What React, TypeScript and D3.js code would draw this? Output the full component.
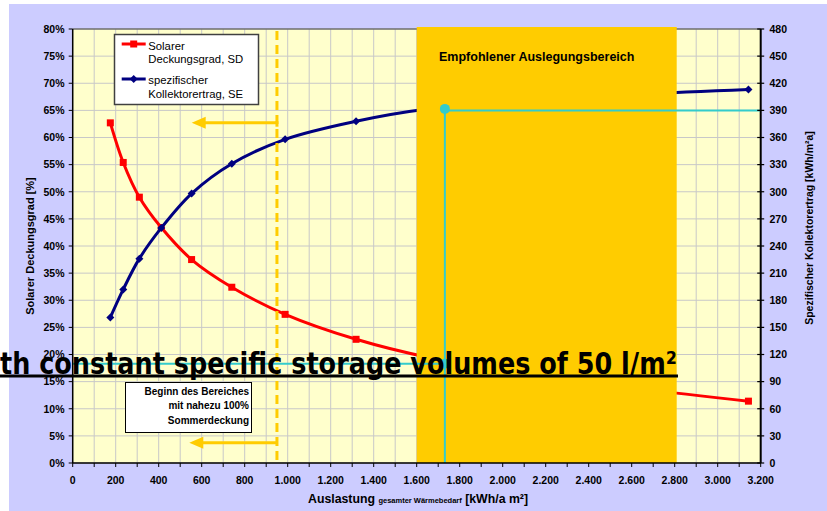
import React from 'react';
import * as d3 from 'd3';

// Auslastung [kWh/a m²] (shared by both series)
const loads = [175, 235, 310, 412, 553, 740, 988, 1318, 1650, 2250, 3143];
// Solarer Deckungsgrad SD [%]
const sdValues = [62.7, 55.4, 49.0, 43.4, 37.5, 32.4, 27.4, 22.8, 19.5, 15.6, 11.4];
// spezifischer Kollektorertrag SE [kWh/m²a]
const seValues = [161, 192, 226, 260, 298, 331, 358, 378, 391.5, 403, 413];

const xTicks = d3.range(0, 3201, 200);
const xMinor = d3.range(0, 3201, 100);
const leftTicks = d3.range(0, 81, 5);
const rightTicks = d3.range(0, 481, 30);

const rangeStart = 1600;
const rangeEnd = 2800;
const markLoad = 1731;
const markSE = 390;
const markSD = 18.3;
const summerStart = 950;

const W = 827;
const H = 511;
const m = { left: 72.7, right: 760.7, top: 29, bottom: 463 };

const fmtThousands = (v: number) =>
  v >= 1000 ? `${Math.floor(v / 1000)}.${String(v % 1000).padStart(3, '0')}` : String(v);

const App: React.FC = () => {
  const x = d3.scaleLinear().domain([0, 3200]).range([m.left, m.right]);
  const yL = d3.scaleLinear().domain([0, 80]).range([m.bottom, m.top]);
  const yR = d3.scaleLinear().domain([0, 480]).range([m.bottom, m.top]);

  const sdLine = d3.line<number>()
    .x((_, i) => x(loads[i]))
    .y(d => yL(d))
    .curve(d3.curveCatmullRom);
  const seLine = d3.line<number>()
    .x((_, i) => x(loads[i]))
    .y(d => yR(d))
    .curve(d3.curveCatmullRom);

  const font = "'Liberation Sans', Arial, sans-serif";
  const yellow = '#FFCC00';
  const cyan = '#33CCCC';
  const arrowY1 = 122.7;
  const arrowY2 = 442.7;
  const xs = x(summerStart);

  const arrow = (y: number, tipX: number) => (
    <g>
      <line x1={xs} y1={y} x2={tipX + 12} y2={y} stroke={yellow} strokeWidth={3} />
      <path d={`M${tipX},${y} L${tipX + 14},${y - 6} L${tipX + 14},${y + 6} Z`} fill={yellow} />
    </g>
  );

  return (
    <svg width={W} height={H} style={{ position: 'absolute', left: 0, top: 0 }} fontFamily={font}>
      <rect x={0} y={0} width={W} height={H} fill="#ffffff" />
      <rect x={9} y={4} width={W - 9} height={H - 4} fill="#CCCCFF" />
      <rect x={m.left} y={m.top} width={m.right - m.left} height={m.bottom - m.top} fill="#FFFFCC" />

      {/* grid */}
      {xMinor.map(v => (
        <line key={`gx${v}`} x1={x(v)} x2={x(v)} y1={m.top} y2={m.bottom} stroke="#C8C8C8" strokeWidth={1} />
      ))}
      {leftTicks.map(v => (
        <line key={`gy${v}`} x1={m.left} x2={m.right} y1={yL(v)} y2={yL(v)} stroke="#C8C8C8" strokeWidth={1} />
      ))}
      <line x1={m.left} x2={m.right} y1={m.top} y2={m.top} stroke="#404040" strokeWidth={1} />

      {/* series */}
      <path d={sdLine(sdValues) || ''} fill="none" stroke="#FF0000" strokeWidth={3} />
      {sdValues.map((v, i) => (
        <rect key={`sd${i}`} x={x(loads[i]) - 3.5} y={yL(v) - 3.5} width={7} height={7} fill="#FF0000" />
      ))}
      <path d={seLine(seValues) || ''} fill="none" stroke="#000080" strokeWidth={3} />
      {seValues.map((v, i) => (
        <path key={`se${i}`} d={`M${x(loads[i])},${yR(v) - 4} l4,4 l-4,4 l-4,-4 Z`} fill="#000080" />
      ))}

      {/* recommended range */}
      <rect x={x(rangeStart)} y={27} width={x(rangeEnd) - x(rangeStart) + 2} height={m.bottom - 27} fill={yellow} />
      <text x={439} y={61} fontSize={12.5} fontWeight="bold" fill="#000">Empfohlener Auslegungsbereich</text>

      {/* cyan markers */}
      <line x1={x(markLoad)} x2={x(markLoad)} y1={yR(markSE)} y2={m.bottom} stroke={cyan} strokeWidth={2} />
      <line x1={x(markLoad)} x2={m.right} y1={yR(markSE)} y2={yR(markSE)} stroke={cyan} strokeWidth={2} />
      <circle cx={x(markLoad)} cy={yR(markSE) - 1.5} r={5} fill={cyan} />
      <line x1={m.left} x2={x(markLoad)} y1={yL(markSD)} y2={yL(markSD)} stroke={cyan} strokeWidth={2} />
      <circle cx={x(markLoad)} cy={yL(markSD)} r={5} fill={cyan} />

      {/* summer coverage marker */}
      <line x1={xs} x2={xs} y1={31} y2={m.bottom} stroke={yellow} strokeWidth={3} strokeDasharray="9 5" />
      {arrow(arrowY1, 191.7)}
      <line x1={xs} x2={xs} y1={arrowY1 - 1.5} y2={arrowY1 + 4} stroke={yellow} strokeWidth={3} />
      {arrow(arrowY2, 189.3)}

      {/* axes */}
      <line x1={m.left} x2={m.left} y1={m.top} y2={m.bottom} stroke="#000" strokeWidth={1.5} />
      <line x1={m.right} x2={m.right} y1={m.top} y2={m.bottom} stroke="#000" strokeWidth={2} />
      <line x1={m.left} x2={m.right} y1={m.bottom} y2={m.bottom} stroke="#000" strokeWidth={1.5} />
      {xMinor.map(v => (
        <line key={`tx${v}`} x1={x(v)} x2={x(v)} y1={m.bottom} y2={m.bottom + 4} stroke="#000" strokeWidth={1} />
      ))}
      {xTicks.map(v => (
        <text key={`lx${v}`} x={x(v)} y={484} fontSize={10.5} fontWeight="bold" textAnchor="middle">{fmtThousands(v)}</text>
      ))}
      {leftTicks.map(v => (
        <g key={`ly${v}`}>
          <line x1={m.left - 4} x2={m.left} y1={yL(v)} y2={yL(v)} stroke="#000" strokeWidth={1} />
          <text x={64.5} y={yL(v) + 3.8} fontSize={10.5} fontWeight="bold" textAnchor="end">{`${v}%`}</text>
        </g>
      ))}
      {rightTicks.map(v => (
        <g key={`ry${v}`}>
          <line x1={m.right - 3.5} x2={m.right + 3.5} y1={yR(v)} y2={yR(v)} stroke="#000" strokeWidth={1.2} />
          <text x={769.5} y={yR(v) + 3.8} fontSize={10.5} fontWeight="bold" textAnchor="start">{v}</text>
        </g>
      ))}

      {/* axis titles */}
      <text transform="translate(34,246) rotate(-90)" fontSize={11} fontWeight="bold" textAnchor="middle">
        Solarer Deckungsgrad  [%]
      </text>
      <text transform="translate(812.5,228) rotate(-90)" fontSize={10.5} fontWeight="bold" textAnchor="middle">
        Spezifischer Kollektorertrag [kWh/m²a]
      </text>
      <text x={308} y={503} fontSize={12.3} fontWeight="bold">
        Auslastung <tspan fontSize={7.5}>gesamter Wärmebedarf</tspan> [kWh/a m²]
      </text>

      {/* legend */}
      <rect x={114.5} y={34.5} width={144} height={70} fill="#fff" stroke="#404040" strokeWidth={1.5} />
      <line x1={121.7} x2={145.7} y1={44} y2={44} stroke="#FF0000" strokeWidth={3} />
      <rect x={130.2} y={40.5} width={7} height={7} fill="#FF0000" />
      <text x={148.3} y={49.5} fontSize={11.3}>Solarer</text>
      <text x={148.3} y={63} fontSize={11.3}>Deckungsgrad, SD</text>
      <line x1={121.7} x2={145.7} y1={79} y2={79} stroke="#000080" strokeWidth={3} />
      <path d="M133.7,75 l4,4 l-4,4 l-4,-4 Z" fill="#000080" />
      <text x={148.3} y={84} fontSize={11.3}>spezifischer</text>
      <text x={148.3} y={97.5} fontSize={11.3}>Kollektorertrag, SE</text>

      {/* annotation */}
      <rect x={125.5} y={382.5} width={126} height={50} fill="#fff" stroke="#000" strokeWidth={1} />
      <text x={249} y={394.5} fontSize={10} fontWeight="bold" textAnchor="end">Beginn des Bereiches</text>
      <text x={249} y={409} fontSize={10} fontWeight="bold" textAnchor="end">mit nahezu 100%</text>
      <text x={249} y={423.5} fontSize={10} fontWeight="bold" textAnchor="end">Sommerdeckung</text>

      {/* overlay caption */}
      <text transform="translate(0,373.5) scale(0.836,1)" fontFamily="'DejaVu Sans', Verdana, sans-serif"
        fontSize={30.5} fontWeight="bold" fill="#000">
        th constant specific storage volumes of 50 l/m²
      </text>
      <line x1={0} x2={678} y1={376} y2={376} stroke="#000" strokeWidth={3} />
    </svg>
  );
};

export default App;
